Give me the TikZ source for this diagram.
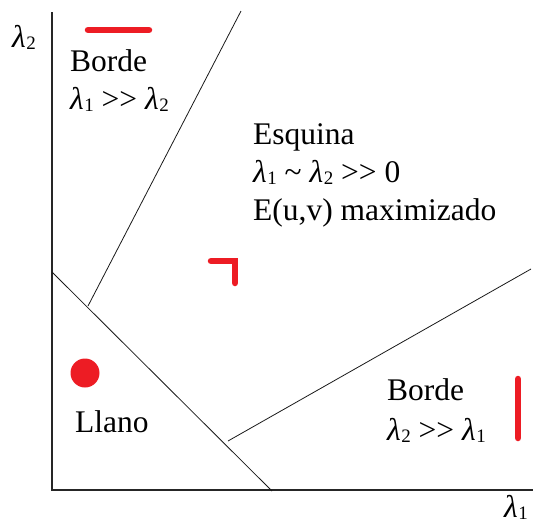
\documentclass[tikz,border=0pt]{standalone}
\usepackage{fontspec}
\setmainfont{Liberation Serif}
\usepackage{xcolor}
\usetikzlibrary{positioning}
\definecolor{markred}{RGB}{237,28,36}
\newcommand{\lam}[1]{\textit{λ}\kern0.5pt\raisebox{-2.5pt}{\fontsize{19}{19}\selectfont #1}}
\newcommand{\mgt}{>\kern0pt>}

\begin{document}
\begin{tikzpicture}[x=1pt, y=-1pt, node distance=38pt, on grid,
    txt/.style={anchor=base west, inner sep=0pt, font=\fontsize{31.5}{38}\selectfont},
    axis/.style={line width=1.3pt, black!85},
    border/.style={line width=0.8pt, black!90},
    redmark/.style={line width=6.5pt, markred, line cap=round, line join=miter}]
    \useasboundingbox (0,0) rectangle (533,528);

    % ejes
    \coordinate (o) at (52,490);
    \coordinate (ytop) at (52,12);
    \coordinate (xend) at (533,490);
    \draw[axis] (ytop) -- (o) -- (xend);
    \node[txt] (ylab) at (12,47) {\lam{2}};
    \node[txt] (xlab) at (504,517) {\lam{1}};

    % fronteras
    \coordinate (d1) at (52,272);
    \coordinate (d2) at (272,491);
    \coordinate (u1) at (88,306);
    \coordinate (u2) at (241,11);
    \coordinate (l1) at (228,441);
    \coordinate (l2) at (531,269);
    \draw[border] (d1) -- (d2);
    \draw[border] (u1) -- (u2);
    \draw[border] (l1) -- (l2);

    % textos
    \node[txt] (borde1) at (70,71) {Borde};
    \node[txt] (borde1b) [below=of borde1.base west, anchor=base west] {\lam{1} \mgt{} \lam{2}};
    \node[txt] (esq) at (253,144) {Esquina};
    \node[txt] (esqb) [below=of esq.base west, anchor=base west] {\lam{1} \textasciitilde{} \lam{2} \mgt{} 0};
    \node[txt] (esqc) [below=of esqb.base west, anchor=base west] {E(u,v) maximizado};
    \node[txt] (llano) at (75,432) {Llano};
    \node[txt] (borde2) at (387,400) {Borde};
    \node[txt] (borde2b) [below=40pt of borde2.base west, anchor=base west] {\lam{2} \mgt{} \lam{1}};

    % marcas
    \coordinate (h1) at (88,30);
    \coordinate (h2) at (149,30);
    \coordinate (c1) at (211,261);
    \coordinate (c2) at (235,261);
    \coordinate (c3) at (235,283);
    \coordinate (v1) at (518,379);
    \coordinate (v2) at (518,438);
    \coordinate (dot) at (85,373);
    \draw[redmark] (h1) -- (h2);
    \draw[redmark] (c1) -- (c2) -- (c3);
    \draw[redmark] (v1) -- (v2);
    \fill[markred] (dot) circle (14.5pt);
\end{tikzpicture}
\end{document}
